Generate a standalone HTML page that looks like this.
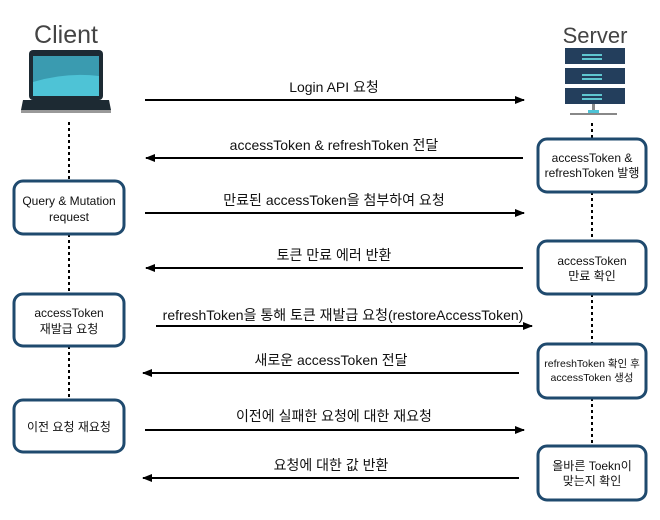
<!DOCTYPE html>
<html><head><meta charset="utf-8"><style>
html,body{margin:0;padding:0;background:#fff;}
svg{display:block;}
text{font-family:"Liberation Sans","Noto Sans CJK KR",sans-serif;fill:#111;}
</style></head><body>
<svg width="660" height="520" viewBox="0 0 660 520" xmlns="http://www.w3.org/2000/svg">
<defs>
<marker id="ah" markerWidth="10" markerHeight="8" refX="9" refY="4" orient="auto" markerUnits="userSpaceOnUse">
<path d="M0,0 L10,4 L0,8 Z" fill="#000"/></marker>
</defs>
<!-- Client -->
<text x="66" y="43" font-size="25" text-anchor="middle" fill="#444" style="fill:#444">Client</text>
<rect x="29" y="50" width="74" height="50" rx="4" fill="#1d2a33"/>
<rect x="33" y="56" width="66" height="40" fill="#3a9bb0"/>
<path d="M33,82 Q66,72 99,76 L99,96 L33,96 Z" fill="#4ec3d6"/>
<path d="M23,100 L109,100 L111,110 L21,110 Z" fill="#1d2a33"/>
<rect x="21" y="110" width="90" height="3" fill="#999"/>
<!-- Server -->
<text x="595" y="43" font-size="22" text-anchor="middle" style="fill:#444">Server</text>
<g>
<rect x="565" y="48" width="60" height="16" fill="#233e5c"/>
<rect x="565" y="68" width="60" height="16" fill="#233e5c"/>
<rect x="565" y="88" width="60" height="16" fill="#233e5c"/>
<g fill="#5fc6d0">
<rect x="582" y="54" width="20" height="2"/><rect x="582" y="58" width="20" height="2"/>
<rect x="582" y="74" width="20" height="2"/><rect x="582" y="78" width="20" height="2"/>
<rect x="582" y="94" width="20" height="2"/><rect x="582" y="98" width="20" height="2"/>
</g>
<rect x="592" y="104" width="3" height="8" fill="#888"/>
<rect x="588" y="110" width="11" height="4" fill="#4ec3d6"/>
<rect x="570" y="113" width="47" height="2" fill="#888"/>
</g>
<!-- dotted lifelines -->
<g stroke="#000" stroke-width="2" stroke-dasharray="3,3">
<line x1="69" y1="122" x2="69" y2="180"/>
<line x1="69" y1="234" x2="69" y2="294"/>
<line x1="69" y1="346" x2="69" y2="400"/>
<line x1="592" y1="123" x2="592" y2="138"/>
<line x1="592" y1="192" x2="592" y2="241"/>
<line x1="592" y1="294" x2="592" y2="344"/>
<line x1="592" y1="398" x2="592" y2="446"/>
</g>
<!-- boxes -->
<g fill="#fff" stroke="#1f4a6e" stroke-width="3">
<rect x="14" y="181" width="110" height="53" rx="9"/>
<rect x="14" y="294" width="110" height="52" rx="9"/>
<rect x="14" y="400" width="110" height="52" rx="9"/>
<rect x="538" y="139" width="108" height="53" rx="9"/>
<rect x="538" y="241" width="108" height="53" rx="9"/>
<rect x="538" y="344" width="108" height="54" rx="9"/>
<rect x="538" y="446" width="108" height="54" rx="9"/>
</g>
<g font-size="12" text-anchor="middle">
<text x="69" y="205">Query &amp; Mutation</text><text x="69" y="221">request</text>
<text x="69" y="317">accessToken</text><text x="69" y="333">재발급 요청</text>
<text x="69" y="431">이전 요청 재요청</text>
<text x="592" y="162">accessToken &amp;</text><text x="592" y="177">refreshToken 발행</text>
<text x="592" y="265">accessToken</text><text x="592" y="280">만료 확인</text>
<text x="592" y="367" font-size="10.5">refreshToken 확인 후</text><text x="592" y="381" font-size="10.5">accessToken 생성</text>
<text x="592" y="470">올바른 Toekn이</text><text x="592" y="485">맞는지 확인</text>
</g>
<!-- arrows -->
<g stroke="#000" stroke-width="2" marker-end="url(#ah)">
<line x1="145" y1="100" x2="524" y2="100"/>
<line x1="523" y1="158" x2="146" y2="158"/>
<line x1="145" y1="213" x2="524" y2="213"/>
<line x1="523" y1="268" x2="146" y2="268"/>
<line x1="156" y1="326" x2="532" y2="326"/>
<line x1="519" y1="373" x2="143" y2="373"/>
<line x1="145" y1="430" x2="524" y2="430"/>
<line x1="519" y1="478" x2="143" y2="478"/>
</g>
<g font-size="14" text-anchor="middle">
<text x="334" y="92">Login API 요청</text>
<text x="334" y="150">accessToken &amp; refreshToken 전달</text>
<text x="334" y="205">만료된 accessToken을 첨부하여 요청</text>
<text x="334" y="260">토큰 만료 에러 반환</text>
<text x="343" y="320">refreshToken을 통해 토큰 재발급 요청(restoreAccessToken)</text>
<text x="331" y="365">새로운 accessToken 전달</text>
<text x="334" y="421">이전에 실패한 요청에 대한 재요청</text>
<text x="331" y="470">요청에 대한 값 반환</text>
</g>
</svg>
</body></html>
